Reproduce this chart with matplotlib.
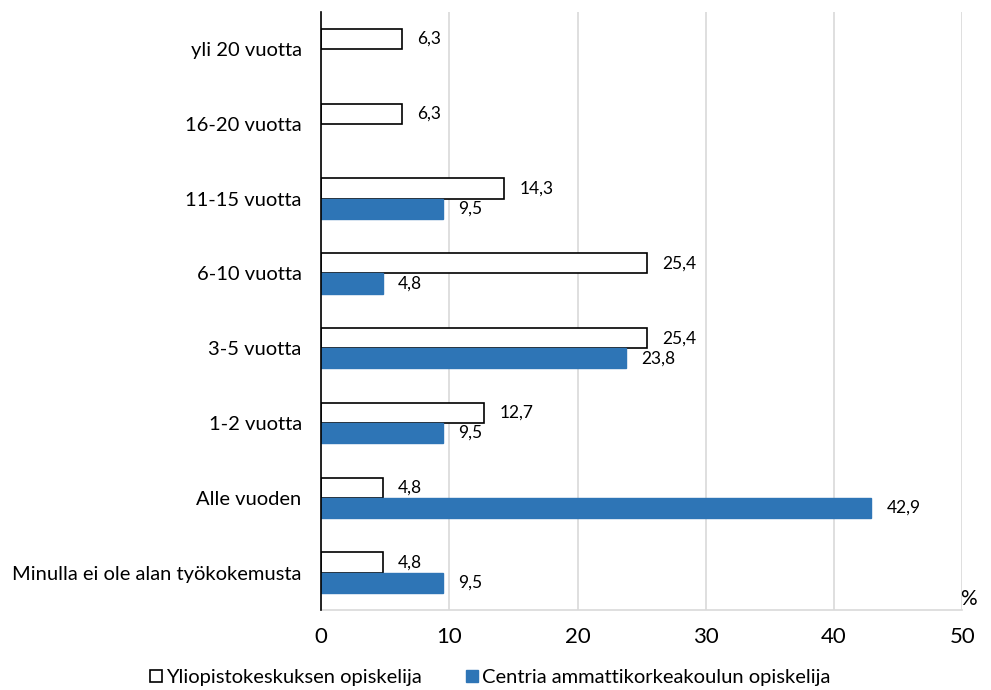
import numpy as np
import matplotlib
matplotlib.use('Agg')
import matplotlib.pyplot as plt

plt.rcParams['font.family'] = ['Lato', 'DejaVu Sans']

# luokat alhaalta ylös
kategoriat = ['Minulla ei ole alan työkokemusta', 'Alle vuoden', '1-2 vuotta',
              '3-5 vuotta', '6-10 vuotta', '11-15 vuotta', '16-20 vuotta',
              'yli 20 vuotta']
yliopisto = [4.8, 4.8, 12.7, 25.4, 25.4, 14.3, 6.3, 6.3]
centria = [9.5, 42.9, 9.5, 23.8, 4.8, 9.5, np.nan, np.nan]
xtiks = [0, 10, 20, 30, 40, 50]

sininen = '#2E75B6'
h = 0.27

fig = plt.figure(figsize=(9.91, 6.90), dpi=100)
ax = fig.add_axes([0.324, 0.116, 0.647, 0.867])

y = np.arange(len(kategoriat))
b1 = ax.barh(y + h / 2, yliopisto, height=h, color='white', edgecolor='black',
             linewidth=1.2, label='Yliopistokeskuksen opiskelija', zorder=3)
b2 = ax.barh(y - h / 2, centria, height=h, color=sininen, edgecolor=sininen,
             label='Centria ammattikorkeakoulun opiskelija', zorder=3)

# arvot palkkien perään
for yy, v in zip(y + h / 2, yliopisto):
    ax.annotate(f'{v:.1f}'.replace('.', ','), (v, yy), xytext=(11, 0),
                textcoords='offset points', va='center', fontsize=12.5)
for yy, v in zip(y - h / 2, centria):
    if np.isnan(v):
        continue
    ax.annotate(f'{v:.1f}'.replace('.', ','), (v, yy), xytext=(11, 0),
                textcoords='offset points', va='center', fontsize=12.5)

ax.set_xlim(0, 50)
ax.set_ylim(-0.5, len(kategoriat) - 0.5)
ax.set_xticks(xtiks)
ax.set_xticklabels([str(t) for t in xtiks], fontsize=16)
ax.set_yticks(y)
ax.set_yticklabels(kategoriat, fontsize=14.5)
ax.tick_params(axis='y', length=0, pad=14)
ax.tick_params(axis='x', length=0, pad=12)
ax.grid(axis='x', color='#D9D9D9', linewidth=1.2, zorder=0)

for s in ['top', 'right']:
    ax.spines[s].set_visible(False)
ax.spines['left'].set_color('black')
ax.spines['left'].set_linewidth(1.2)
ax.spines['left'].set_zorder(4)
ax.spines['bottom'].set_color('#D9D9D9')
ax.spines['bottom'].set_linewidth(1.2)

fig.text(0.977, 0.118, '%', fontsize=15, ha='center', va='bottom')

fig.legend(handles=[b1, b2], loc='center', bbox_to_anchor=(0.495, 0.018),
           ncol=2, frameon=False, fontsize=14.5, handlelength=0.6,
           handleheight=0.6, handletextpad=0.2, columnspacing=2.2)

fig.savefig('out.png', dpi=100)
